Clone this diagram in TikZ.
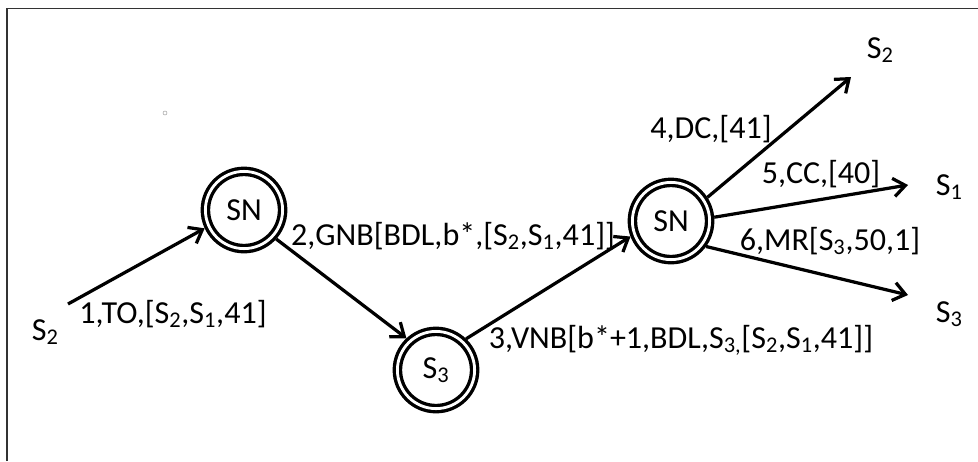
\documentclass[tikz,border=0pt]{standalone}
\usepackage{fontspec}
\setmainfont{Carlito}
\usetikzlibrary{arrows.meta}
\newcommand{\Ssub}[1]{S\textsubscript{#1}}

\begin{document}
\begin{tikzpicture}[x=0.025cm,y=-0.025cm,
	every node/.style={font=\fontsize{22.8}{27}\selectfont},
	state/.style={circle,draw,double,line width=2.4pt,double distance=2pt,
		minimum size=1.93cm,inner sep=0pt,outer sep=3.4pt},
	msg/.style={anchor=base},
	flow/.style={line width=2.3pt,-{Straight Barb[length=8.5pt,width=13pt,line width=2.3pt]}}]
		\useasboundingbox (0,0) rectangle (978,461);
		% frame
		\draw[line width=1pt,black!80] (7,461) -- (7,8.5) -- (978,8.5);
		\draw[black!35,line width=0.4pt] (165,113) circle [radius=2];
		% states
		\node[state] (sn1) at (244,210) {SN};
		\node[state] (s3) at (436,370) {\Ssub{3}};
		\node[state] (sn2) at (671,221) {SN};
		% end points
		\node[anchor=base west] (from) at (27,340) {\Ssub{2}};
		\node[anchor=base west] (to2) at (862,58) {\Ssub{2}};
		\node[anchor=base west] (to1) at (931,195) {\Ssub{1}};
		\node[anchor=base west] (to3) at (931,322) {\Ssub{3}};
		\coordinate (start) at (68,304);
		\coordinate (end4) at (851,77);
		\coordinate (end5) at (908,185);
		\coordinate (end6) at (908,295);
		% connectors
		\draw[flow] (start) -- (sn1.205);
		\draw[flow] (sn1.-42) -- (s3.133);
		\draw[flow] (s3.46) -- (sn2.201);
		\draw[flow] (sn2.33) -- (end4);
		\draw[flow] (sn2.5) -- (end5);
		\draw[flow] (sn2.-36) -- (end6);
		% messages
		\node[msg] (m1) at (173,323) {1,TO,[\Ssub{2},\Ssub{1},41]};
		\node[msg] (m2) at (453,245) {2,GNB[BDL,b*,[\Ssub{2},\Ssub{1},41]]};
		\node[msg] (m3) at (681,348) {3,VNB[b*+1,BDL,\Ssub{3,}[\Ssub{2},\Ssub{1},41]]};
		\node[msg] (m4) at (711,138) {4,DC,[41]};
		\node[msg] (m5) at (821,183) {5,CC,[40]};
		\node[msg] (m6) at (830,250) {6,MR[\Ssub{3},50,1]};
\end{tikzpicture}
\end{document}
